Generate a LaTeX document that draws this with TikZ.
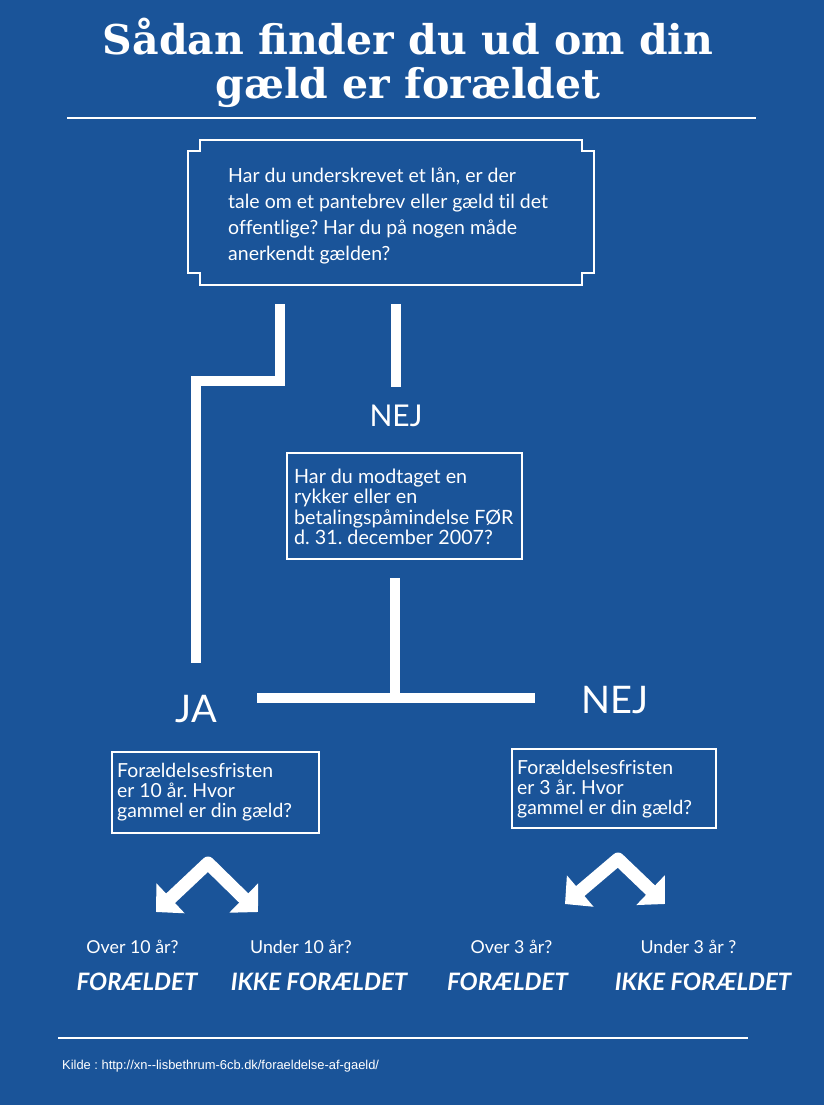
\documentclass[tikz,border=0pt]{standalone}
\usepackage{fontspec}
\setmainfont{Lato}[Ligatures=NoCommon]
\newfontfamily\titlefont{DejaVu Serif}
\newfontfamily\srcfont{Liberation Sans}
\usetikzlibrary{arrows.meta}
\definecolor{bg}{HTML}{1A5499}
\frenchspacing
\begin{document}
\begin{tikzpicture}[x=1pt,y=-1pt,
  conn/.style={white, line width=10pt},
  rulel/.style={white, line width=2pt},
  qbox/.style={draw=white, line width=2pt, inner sep=0pt},
  frame/.style={draw=none, inner sep=0pt},
  qtext/.style={white, anchor=base west, inner sep=0pt},
  lbl/.style={white, anchor=base, inner sep=0pt},
  bigarrow/.style={white, line width=13pt, line join=round,
     {Triangle[length=20pt,width=40pt]}-{Triangle[length=20pt,width=40pt]}},
]
\fill[bg] (0,0) rectangle (824,1105);
\useasboundingbox (0,0) rectangle (824,1105);

% title
\node[lbl, font=\titlefont\bfseries\fontsize{41}{40}\selectfont] (title) at (408,55)
  {\begin{tabular}[t]{@{}c@{}}Sådan finder du ud om din\\gæld er forældet\end{tabular}};
\coordinate (r1a) at (67,118); \coordinate (r1b) at (756,118);
\draw[rulel] (r1a) -- (r1b);

% top box
\node[frame, minimum width=406pt, minimum height=145pt] (q1) at (391,212.5) {};
\draw[white, line width=2pt]
  ([xshift=12pt]q1.north west) -- ([xshift=-12pt]q1.north east) -- ++(0,11) -- ++(12,0)
  -- ([yshift=12pt]q1.south east) -- ++(-12,0) -- ++(0,12)
  -- ([xshift=12pt]q1.south west) -- ++(0,-12) -- ++(-12,0)
  -- ([yshift=-11pt]q1.north west) -- ++(12,0) -- cycle;
\node[qtext, font=\fontsize{19.5}{26}\selectfont] (t1) at (228,182)
  {\begin{tabular}[t]{@{}l@{}}Har du underskrevet et lån, er der\\tale om et pantebrev eller gæld til det\\offentlige? Har du på nogen måde\\anerkendt gælden?\end{tabular}};

% connectors from top box
\coordinate (a1) at (280,304); \coordinate (a2) at (280,381);
\coordinate (a3) at (195.5,381); \coordinate (a4) at (195.5,663);
\draw[conn] (a1) -- (a2) -- (a3) -- (a4);
\coordinate (b1) at (396,304); \coordinate (b2) at (396,387);
\draw[conn] (b1) -- (b2);

\node[lbl, font=\fontsize{30}{30}\selectfont] (nej1) at (396,426) {NEJ};

% second box
\node[qbox, minimum width=235pt, minimum height=106pt] (q2) at (404.5,506) {};
\node[qtext, font=\fontsize{19.7}{19.7}\selectfont] (t2) at (294,483)
  {\begin{tabular}[t]{@{}l@{}}Har du modtaget en\\rykker eller en\\betalingspåmindelse FØR\\d. 31. december 2007?\end{tabular}};

\coordinate (c1) at (395,578); \coordinate (c2) at (395,697.5);
\coordinate (c3) at (257,697.5); \coordinate (c4) at (535,697.5);
\draw[conn] (c1) -- (c2);
\draw[conn] (c3) -- (c4);

\node[lbl, font=\fontsize{38}{38}\selectfont] (ja) at (196,722) {JA};
\node[lbl, font=\fontsize{38}{38}\selectfont] (nej2) at (615,713) {NEJ};

% third and fourth boxes
\node[qbox, minimum width=207pt, minimum height=81pt] (q3) at (215.5,792.5) {};
\node[qtext, font=\fontsize{19.4}{19.5}\selectfont] (t3) at (117,777)
  {\begin{tabular}[t]{@{}l@{}}Forældelsesfristen\\er 10 år. Hvor\\gammel er din gæld?\end{tabular}};
\node[qbox, minimum width=204pt, minimum height=79pt] (q4) at (614,788.5) {};
\node[qtext, font=\fontsize{19.4}{19.5}\selectfont] (t4) at (517,774)
  {\begin{tabular}[t]{@{}l@{}}Forældelsesfristen\\er 3 år. Hvor\\gammel er din gæld?\end{tabular}};

% split arrows
\coordinate (la) at (208,863); \coordinate (ll) at (156,912); \coordinate (lr) at (258,912);
\draw[bigarrow] (ll) -- (la) -- (lr);
\coordinate (ra) at (618,859); \coordinate (rl) at (565,904); \coordinate (rr) at (665,904);
\draw[bigarrow] (rl) -- (ra) -- (rr);

% answers
\node[lbl, font=\fontsize{17.8}{17.8}\selectfont] (o10) at (132.5,953) {Over 10 år?};
\node[lbl, font=\fontsize{17.8}{17.8}\selectfont] (u10) at (301,953) {Under 10 år?};
\node[lbl, font=\fontsize{17.8}{17.8}\selectfont] (o3) at (511.5,953) {Over 3 år?};
\node[lbl, font=\fontsize{17.8}{17.8}\selectfont] (u3) at (688.5,953) {Under 3 år ?};
\node[lbl, font=\bfseries\itshape\fontsize{24}{24}\selectfont] (f1) at (137,990) {FORÆLDET};
\node[lbl, font=\bfseries\itshape\fontsize{24}{24}\selectfont] (i1) at (319,990) {IKKE FORÆLDET};
\node[lbl, font=\bfseries\itshape\fontsize{24}{24}\selectfont] (f2) at (507.5,990) {FORÆLDET};
\node[lbl, font=\bfseries\itshape\fontsize{24}{24}\selectfont] (i2) at (703,990) {IKKE FORÆLDET};

% footer
\coordinate (r2a) at (58,1038); \coordinate (r2b) at (748,1038);
\draw[rulel] (r2a) -- (r2b);
\node[qtext, font=\srcfont\fontsize{12.9}{12.9}\selectfont] (src) at (62,1069)
  {Kilde : http://xn--lisbethrum-6cb.dk/foraeldelse-af-gaeld/};
\end{tikzpicture}
\end{document}
